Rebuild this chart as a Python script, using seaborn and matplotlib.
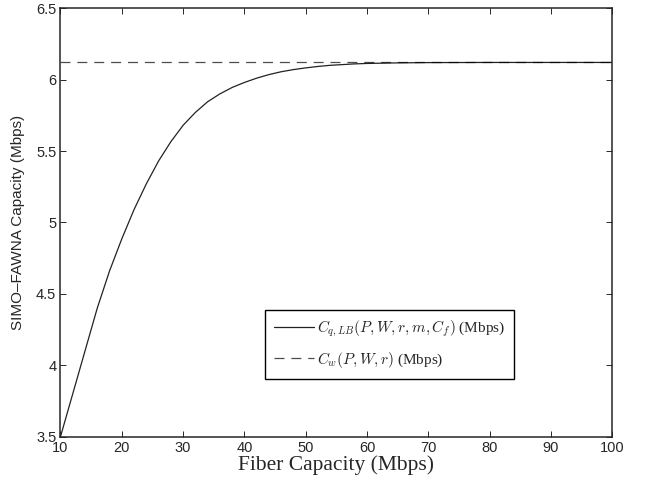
import matplotlib
matplotlib.use("Agg")
import matplotlib.pyplot as plt
import seaborn as sns
import pandas as pd

# values
fiber_cap = [10, 12, 14, 16, 18, 20, 22, 24, 26, 28, 30, 32, 34, 36, 38, 40,
             42, 44, 46, 48, 50, 52, 54, 56, 58, 60, 65, 70, 80, 90, 100]
c_q_lb = [3.50, 3.80, 4.10, 4.40, 4.66, 4.885, 5.09, 5.27, 5.43, 5.565, 5.68,
          5.77, 5.845, 5.90, 5.945, 5.98, 6.01, 6.035, 6.055, 6.07, 6.082,
          6.092, 6.10, 6.105, 6.11, 6.113, 6.117, 6.119, 6.12, 6.12, 6.12]
c_w = 6.12

x_ticks = [10, 20, 30, 40, 50, 60, 70, 80, 90, 100]
y_ticks = [3.5, 4, 4.5, 5, 5.5, 6, 6.5]

label_lb = r"$C_{q,LB}(P,W,r,m,C_f)$ (Mbps)"
label_w = r"$C_w(P,W,r)$ (Mbps)"

sns.set_style("ticks")
plt.rcParams["font.family"] = ["Liberation Sans", "DejaVu Sans"]
plt.rcParams["mathtext.fontset"] = "cm"
plt.rcParams["xtick.direction"] = "in"
plt.rcParams["ytick.direction"] = "in"
plt.rcParams["xtick.top"] = True
plt.rcParams["ytick.right"] = True

df = pd.DataFrame({"fiber": fiber_cap, "cap": c_q_lb})

fig, ax = plt.subplots(figsize=(6.5, 4.8), dpi=100)
fig.subplots_adjust(left=0.093, right=0.942, top=0.983, bottom=0.090)

sns.lineplot(data=df, x="fiber", y="cap", color="#222222", linewidth=0.9,
             label=label_lb, ax=ax)
ax.axhline(c_w, color="black", linestyle=(0, (8, 5.5)), linewidth=0.9,
           alpha=0.7, label=label_w)

ax.set_xlim(10, 100)
ax.set_ylim(3.5, 6.5)
ax.set_xticks(x_ticks)
ax.set_yticks(y_ticks)
ax.set_yticklabels(["3.5", "4", "4.5", "5", "5.5", "6", "6.5"])
ax.tick_params(labelsize=10.5, length=4, width=0.7, pad=3)
for s in ax.spines.values():
    s.set_linewidth(1.1)
    s.set_visible(True)

ax.set_xlabel("Fiber Capacity (Mbps)", family="Liberation Serif",
              fontsize=15.5, labelpad=0)
ax.set_ylabel("SIMO\u2013FAWNA Capacity (Mbps)", fontsize=11, labelpad=8)

leg = ax.legend(loc="lower left", bbox_to_anchor=(0.371, 0.135),
                borderaxespad=0,
                prop={"family": "Liberation Serif", "size": 11},
                frameon=True, fancybox=False, framealpha=1,
                edgecolor="black", handlelength=2.6, handletextpad=0.2,
                borderpad=0.6, labelspacing=0.7)
leg.get_frame().set_linewidth(1.0)

plt.savefig("out.png", dpi=100)
